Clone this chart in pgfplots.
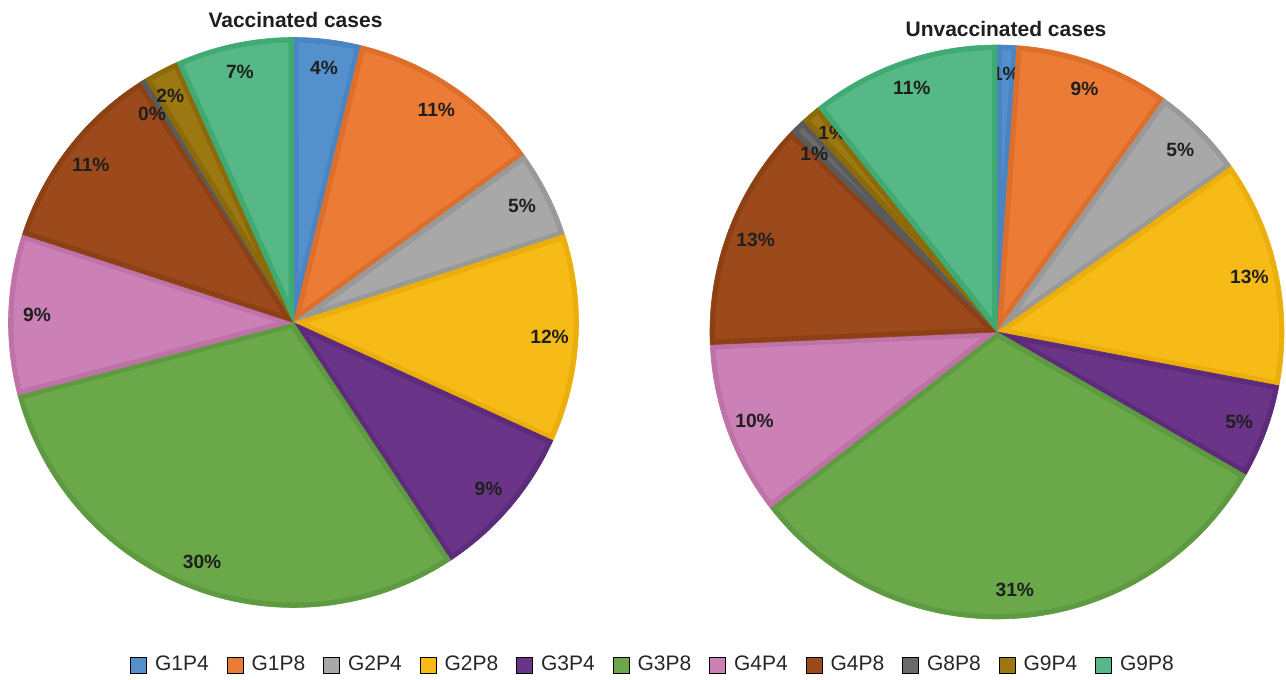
\documentclass[border=0pt]{standalone}
\usepackage{pgfplots}
\pgfplotsset{compat=1.18}
\usepackage{fontspec}
\setmainfont{Liberation Sans}

% dark (edge) and light (fill) colours
\definecolor{c1d}{HTML}{4A84C2}\definecolor{c1l}{HTML}{5490CC}
\definecolor{c2d}{HTML}{DE6F2B}\definecolor{c2l}{HTML}{EC7B36}
\definecolor{c3d}{HTML}{999999}\definecolor{c3l}{HTML}{A8A8A8}
\definecolor{c4d}{HTML}{EBAE0A}\definecolor{c4l}{HTML}{F7BB18}
\definecolor{c5d}{HTML}{5E2B7C}\definecolor{c5l}{HTML}{6A3589}
\definecolor{c6d}{HTML}{5E9A3F}\definecolor{c6l}{HTML}{6AA84A}
\definecolor{c7d}{HTML}{BE72A8}\definecolor{c7l}{HTML}{CB80B6}
\definecolor{c8d}{HTML}{8E4015}\definecolor{c8l}{HTML}{9C4A1C}
\definecolor{c9d}{HTML}{5A5A5A}\definecolor{c9l}{HTML}{6A6A6A}
\definecolor{c10d}{HTML}{8C6A0A}\definecolor{c10l}{HTML}{9B7812}
\definecolor{c11d}{HTML}{3FAA72}\definecolor{c11l}{HTML}{56B886}

\tikzset{lab/.style={font=\bfseries\fontsize{9.6}{11}\selectfont, text=black!88, inner sep=0pt}}

\def\bev{5}
\def\cum{0}
\def\parseshift#1,#2\relax{\def\sDx{#1}\def\sDy{#2}}
% [label shift dx,dy] #2 cx, #3 cy, #4 r, #5 value (%), #6 dark colour, #7 light colour, #8 label
\newcommand{\slice}[8][0,0]{%
  \parseshift#1\relax
  \pgfmathsetmacro\sLo{90-3.6*(\cum+#5)}%
  \pgfmathsetmacro\sHi{90-3.6*\cum}%
  \pgfmathsetmacro\sMid{(\sLo+\sHi)/2}%
  \pgfmathsetmacro\sHalf{(\sHi-\sLo)/2}%
  \pgfmathsetmacro\sDel{asin(\bev/(#4-\bev))}%
  \pgfmathsetmacro\sRin{#4-\bev}%
  \pgfmathsetmacro\sIlo{\sLo+\sDel}%
  \pgfmathsetmacro\sIhi{\sHi-\sDel}%
  \pgfmathsetmacro\sLx{#2+0.9*#4*cos(\sMid)+\sDx}%
  \pgfmathsetmacro\sLy{#3+0.9*#4*sin(\sMid)+\sDy}%
  \edef\temp{\noexpand\addplot[forget plot, fill=#6, draw=#6, line width=0.3pt, domain=\sLo:\sHi, samples=120] ({#2+#4*cos(x)},{#3+#4*sin(x)}) -- (axis cs:#2,#3) -- cycle;}%
  \temp
  \pgfmathparse{\sHalf>\sDel+0.2 ? 1 : 0}%
  \ifdim\pgfmathresult pt>0.5pt
    \pgfmathsetmacro\sAx{#2+\bev/sin(\sHalf)*cos(\sMid)}%
    \pgfmathsetmacro\sAy{#3+\bev/sin(\sHalf)*sin(\sMid)}%
    \edef\temp{\noexpand\addplot[forget plot, fill=#7, draw=none, domain=\sIlo:\sIhi, samples=120] ({#2+\sRin*cos(x)},{#3+\sRin*sin(x)}) -- (axis cs:\sAx,\sAy) -- cycle;}%
    \temp
  \fi
  \edef\temp{\noexpand\node[lab] at (axis cs:\sLx,\sLy) {\unexpanded{#8}};}%
  \temp
  \pgfmathsetmacro\sTmp{\cum+#5}\xdef\cum{\sTmp}%
}

\begin{document}
\begin{tikzpicture}
\begin{axis}[
  x=0.5pt, y=0.5pt, xmin=0, xmax=1286, ymin=0, ymax=680,
  hide axis, clip=false,
  legend columns=11,
  legend image code/.code={\fill[#1] (0pt,-4pt) rectangle (8pt,4pt);},
  legend style={at={(0.507,0.022)}, anchor=center, draw=none, fill=none,
    inner sep=0pt, font=\fontsize{10.5}{12}\selectfont, text=black!85,
    nodes={inner sep=0pt},
    /tikz/every odd column/.style={column sep=4pt},
    /tikz/every even column/.style={column sep=9pt}},
]
% Vaccinated cases (percent)
\xdef\cum{0}
\slice{293.5}{357.5}{285}{3.8}{c1d}{c1l}{4\%}
\slice{293.5}{357.5}{285}{11.2}{c2d}{c2l}{11\%}
\slice{293.5}{357.5}{285}{5.0}{c3d}{c3l}{5\%}
\slice{293.5}{357.5}{285}{11.8}{c4d}{c4l}{12\%}
\slice{293.5}{357.5}{285}{8.9}{c5d}{c5l}{9\%}
\slice{293.5}{357.5}{285}{30.2}{c6d}{c6l}{30\%}
\slice{293.5}{357.5}{285}{9.1}{c7d}{c7l}{9\%}
\slice{293.5}{357.5}{285}{11.0}{c8d}{c8l}{11\%}
\slice[-6,-9]{293.5}{357.5}{285}{0.3}{c9d}{c9l}{0\%}
\slice[-4,0]{293.5}{357.5}{285}{2.0}{c10d}{c10l}{2\%}
\slice{293.5}{357.5}{285}{6.7}{c11d}{c11l}{7\%}
% Unvaccinated cases (percent)
\xdef\cum{0}
\slice{997}{348}{287}{1.1}{c1d}{c1l}{1\%}
\slice{997}{348}{287}{8.8}{c2d}{c2l}{9\%}
\slice{997}{348}{287}{5.3}{c3d}{c3l}{5\%}
\slice{997}{348}{287}{12.8}{c4d}{c4l}{13\%}
\slice{997}{348}{287}{5.3}{c5d}{c5l}{5\%}
\slice{997}{348}{287}{31.2}{c6d}{c6l}{31\%}
\slice{997}{348}{287}{9.8}{c7d}{c7l}{10\%}
\slice{997}{348}{287}{13.0}{c8d}{c8l}{13\%}
\slice[-3,-7]{997}{348}{287}{0.9}{c9d}{c9l}{1\%}
\slice[3,3]{997}{348}{287}{1.1}{c10d}{c10l}{1\%}
\slice{997}{348}{287}{10.7}{c11d}{c11l}{11\%}

\node[font=\bfseries\fontsize{10.5}{12}\selectfont, text=black!88] at (axis cs:295.5,660) {Vaccinated cases};
\node[font=\bfseries\fontsize{10.5}{12}\selectfont, text=black!88] at (axis cs:1006,651) {Unvaccinated cases};

\addlegendimage{fill=c1l}\addlegendentry{G1P4}
\addlegendimage{fill=c2l}\addlegendentry{G1P8}
\addlegendimage{fill=c3l}\addlegendentry{G2P4}
\addlegendimage{fill=c4l}\addlegendentry{G2P8}
\addlegendimage{fill=c5l}\addlegendentry{G3P4}
\addlegendimage{fill=c6l}\addlegendentry{G3P8}
\addlegendimage{fill=c7l}\addlegendentry{G4P4}
\addlegendimage{fill=c8l}\addlegendentry{G4P8}
\addlegendimage{fill=c9l}\addlegendentry{G8P8}
\addlegendimage{fill=c10l}\addlegendentry{G9P4}
\addlegendimage{fill=c11l}\addlegendentry{G9P8}
\end{axis}
\pgfresetboundingbox
\path[use as bounding box] (current axis.south west) rectangle (current axis.north east);
\end{tikzpicture}
\end{document}
